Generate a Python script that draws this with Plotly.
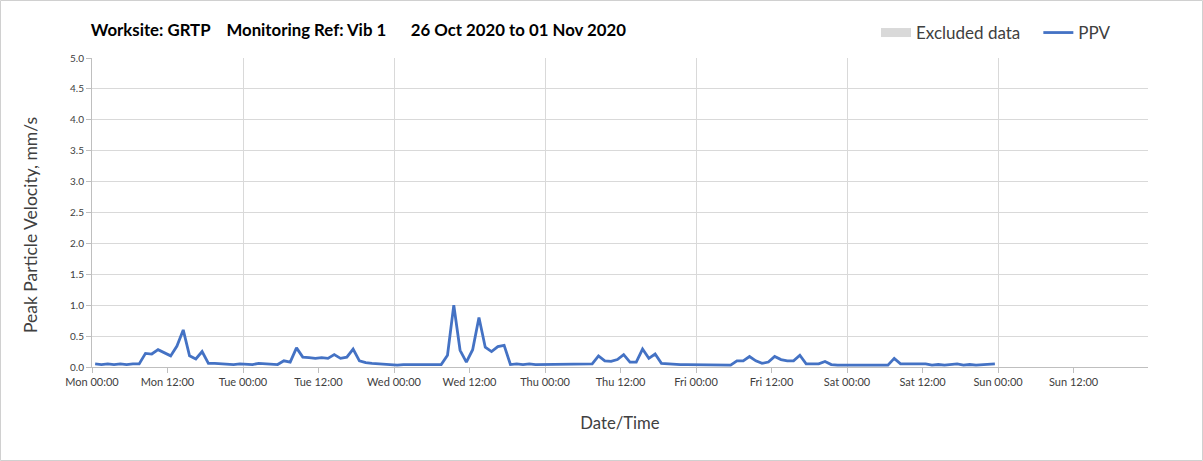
import pandas as pd
import plotly.graph_objects as go

# ---- data (hourly PPV readings, mm/s) ----
start_time = "2020-10-26 00:30"
ppv = [
    0.05, 0.04, 0.05, 0.04, 0.05, 0.04, 0.05, 0.05,
    0.22, 0.21, 0.28, 0.23, 0.18, 0.34, 0.60, 0.18, 0.13, 0.25,
    0.06, 0.06, 0.05, 0.05, 0.04, 0.05, 0.05, 0.04, 0.06, 0.05, 0.05, 0.04,
    0.10, 0.08, 0.31, 0.16, 0.15, 0.14,
    0.15, 0.14, 0.20, 0.14, 0.16, 0.29, 0.10, 0.07, 0.06, 0.05, 0.04, 0.04,
    0.03, 0.04, 0.04, 0.03, 0.04, 0.04, 0.03, 0.04,
    0.19, 1.00, 0.27, 0.08, 0.28, 0.80, 0.32, 0.25, 0.33, 0.35, 0.04,
    0.05, 0.04, 0.05, 0.04, 0.04, 0.04, 0.05, 0.04, 0.05, 0.04, 0.04, 0.05, 0.05,
    0.18, 0.10, 0.09, 0.12, 0.20, 0.08, 0.08, 0.29, 0.14, 0.21, 0.06,
    0.05, 0.05, 0.04, 0.04, 0.04, 0.03, 0.03, 0.03, 0.03, 0.03, 0.03,
    0.10, 0.10, 0.17, 0.10, 0.06, 0.08,
    0.17, 0.12, 0.10, 0.10, 0.19, 0.05, 0.05, 0.05, 0.09, 0.04,
    0.03, 0.03, 0.03, 0.04, 0.03, 0.03, 0.04, 0.03, 0.03,
    0.14, 0.05, 0.05, 0.05, 0.05, 0.05,
    0.03, 0.04, 0.03, 0.04, 0.05, 0.03, 0.04, 0.03, 0.04, 0.04, 0.05,
]
times = pd.date_range(start_time, periods=len(ppv), freq="h")
excluded_x = [None]
excluded_y = [None]
x_range = ["2020-10-26 00:00", "2020-11-01 23:50"]
y_ticks = [0.0, 0.5, 1.0, 1.5, 2.0, 2.5, 3.0, 3.5, 4.0, 4.5, 5.0]

title_text = ("Worksite: GRTP\u00a0\u00a0\u00a0 Monitoring Ref: Vib 1"
              "\u00a0\u00a0\u00a0\u00a0\u00a0 26 Oct 2020 to 01 Nov 2020")
y_title = "Peak Particle Velocity, mm/s"
x_title = "Date/Time"

FONT = "Lato"
W, H = 1203, 461
ML, MR, MT, MB = 92, 55, 58, 94

fig = go.Figure()
fig.add_trace(go.Scatter(x=excluded_x, y=excluded_y, mode="lines",
                         name="Excluded data\u00a0\u00a0\u00a0",
                         line=dict(color="#d9d9d9", width=9)))
fig.add_trace(go.Scatter(x=times, y=ppv, mode="lines", name="PPV",
                         line=dict(color="#4472c4", width=2.8)))
# helper trace for the daily gridlines axis
fig.add_trace(go.Scatter(x=times, y=ppv, mode="lines", xaxis="x2",
                         line=dict(color="rgba(0,0,0,0)", width=0),
                         showlegend=False, hoverinfo="skip"))

pw = W - ML - MR
ph = H - MT - MB

fig.update_layout(
    template="none",
    width=W, height=H,
    margin=dict(l=ML, r=MR, t=MT, b=MB, autoexpand=False),
    paper_bgcolor="white", plot_bgcolor="white",
    font=dict(family=FONT, color="#404040"),
    title=dict(text=title_text, x=ML / W - 0.001, xanchor="left",
               y=1 - 30 / H, yanchor="middle",
               font=dict(family=FONT, size=16.8, color="#000000", weight="bold")),
    showlegend=True,
    legend=dict(orientation="h", x=1 - 32 / pw, xanchor="right",
                y=1 + 25 / ph, yanchor="middle",
                font=dict(family=FONT, size=17, color="#404040"),
                traceorder="normal", itemwidth=30, bgcolor="rgba(0,0,0,0)"),
    xaxis=dict(range=x_range, type="date", tick0="2020-10-26",
               dtick=12 * 3600 * 1000, tickformat="%a %H:%M",
               showgrid=False, ticks="outside", ticklen=5,
               tickcolor="#bfbfbf", showline=True, linecolor="#bfbfbf",
               tickfont=dict(size=11, color="#404040"),
               automargin=False,
               title=dict(text=x_title, standoff=30,
                          font=dict(size=16.7, color="#404040")),
               zeroline=False),
    xaxis2=dict(range=x_range, type="date", matches="x", overlaying="x",
                tick0="2020-10-26", dtick=24 * 3600 * 1000,
                showgrid=True, gridcolor="#d9d9d9", gridwidth=1,
                showticklabels=False, ticks="", showline=False,
                zeroline=False, automargin=False),
    yaxis=dict(range=[0, 5], tickvals=y_ticks, tickformat=".1f",
               showgrid=True, gridcolor="#d9d9d9", gridwidth=1,
               ticks="outside", ticklen=5, tickcolor="#bfbfbf",
               showline=True, linecolor="#bfbfbf", zeroline=False,
               automargin=False,
               tickfont=dict(size=10, color="#404040")),
    annotations=[dict(text=y_title, textangle=-90, xref="paper", yref="paper",
                      x=(30 - ML) / pw, y=(H - MB - 225) / ph,
                      xanchor="center", yanchor="middle", showarrow=False,
                      font=dict(family=FONT, size=17.5, color="#404040"))],
    shapes=[dict(type="rect", xref="paper", yref="paper",
                 x0=-(ML - 0.5) / pw, x1=1 + (MR - 0.5) / pw,
                 y0=-(MB - 0.5) / ph, y1=1 + (MT - 0.5) / ph,
                 line=dict(color="#d0d0d0", width=1), layer="below")],
)

fig.write_html("out.html",
               config={"displayModeBar": False},
               post_script="document.body.style.margin='0';"
                           "document.body.style.overflow='hidden';")
